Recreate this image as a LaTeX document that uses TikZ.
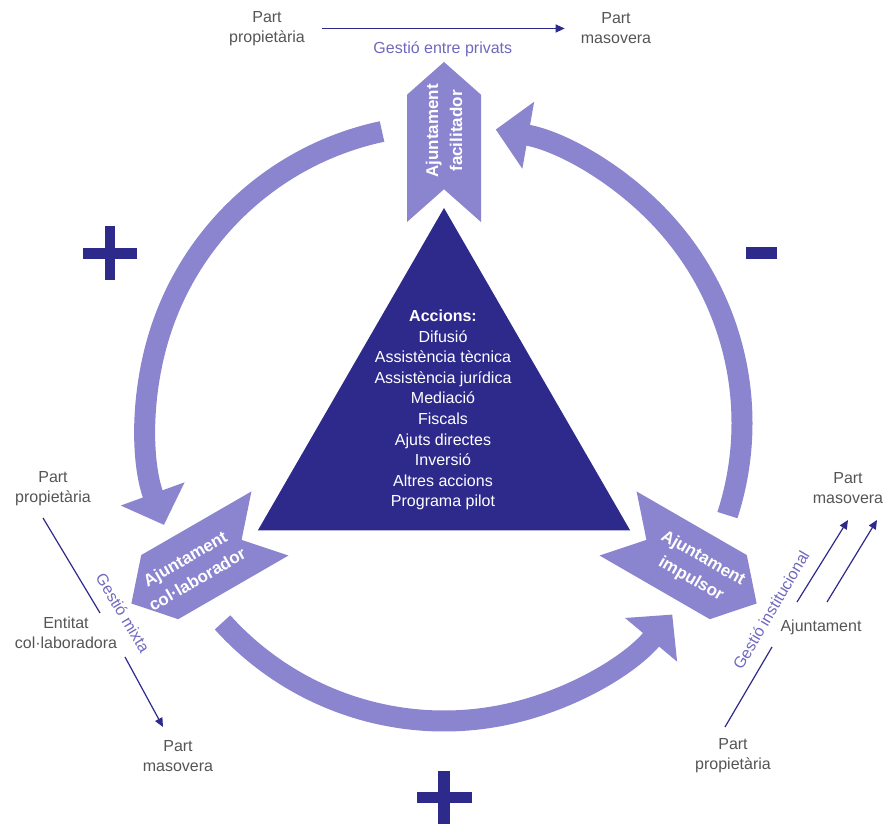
\documentclass[tikz,border=0pt]{standalone}
\usepackage{fontspec}
\setmainfont{Liberation Sans}
\usepackage{tikz}
\usetikzlibrary{arrows.meta,positioning,shapes.symbols,shapes.geometric}
\definecolor{navy}{RGB}{46,42,140}
\definecolor{lav}{RGB}{139,132,206}
\definecolor{lavtxt}{RGB}{112,104,190}
\definecolor{ink}{RGB}{85,85,85}
\newcommand{\partsz}{\fontsize{16}{20}\selectfont}
\newcommand{\accsz}{\fontsize{16}{20.6}\selectfont}
\newcommand{\chevsz}{\fontsize{17}{24}\selectfont}
\tikzset{
  party/.style={align=center,text=ink,font=\partsz,inner sep=0pt},
  gestio/.style={text=lavtxt,font=\partsz,inner sep=0pt},
  flow/.style={draw=navy,line width=1.2pt},
  flowarr/.style={flow,-{Triangle[length=9pt,width=8pt]}},
  chev/.style={signal,signal to=east,signal from=west,signal pointer angle=97,
    fill=lav,minimum width=160pt,minimum height=74pt,inner sep=0pt},
  chevtxt/.style={align=center,text=white,font=\chevsz\bfseries,inner sep=0pt},
  ring/.style={draw=lav,line width=21pt,-{Triangle[length=33pt,width=66pt]}},
  pm/.style={fill=navy},
}

\begin{document}
\begin{tikzpicture}[x=1pt,y=1pt]
  \useasboundingbox (0,0) rectangle (884,827);
  \coordinate (O) at (444,404);

  % central triangle
  \node[regular polygon,regular polygon sides=3,minimum size=430pt,
    fill=navy,inner sep=0pt] (tri) at (O) {};
  \node[align=center,text=white,font=\accsz,inner sep=0pt] (acc) at (443,417)
    {\textbf{Accions:}\\Difusió\\Assistència tècnica\\Assistència jurídica\\
     Mediació\\Fiscals\\Ajuts directes\\Inversió\\Altres accions\\Programa pilot};

  % the three roles
  \node[chev,rotate=90] (fac) at ([shift={(90:281)}]O) {};
  \node[chevtxt,rotate=90] (factxt) at ([shift={(90:292)}]O) {Ajuntament\\facilitador};
  \node[chev,rotate=30,signal to=west,signal from=east] (col) at ([shift={(210:281)}]O) {};
  \node[chevtxt,rotate=30] (coltxt) at ([shift={(210:292)}]O) {Ajuntament\\col·laborador};
  \node[chev,rotate=-30] (imp) at ([shift={(330:281)}]O) {};
  \node[chevtxt,rotate=-30] (imptxt) at ([shift={(330:292)}]O) {Ajuntament\\impulsor};

  % ring arrows
  \draw[ring] ([shift={(102:298)}]O) arc[start angle=102,end angle=200,radius=298pt];
  \draw[ring] ([shift={(222:298)}]O) arc[start angle=222,end angle=320,radius=298pt];
  \draw[ring] ([shift={(342:298)}]O) arc[start angle=342,end angle=440,radius=298pt];

  % signs
  \fill[pm] (105,547) rectangle (115,601);
  \fill[pm] (83,568) rectangle (137,579);
  \fill[pm] (746,568) rectangle (777,580);
  \fill[pm] (438,3) rectangle (450,56);
  \fill[pm] (417,24) rectangle (472,35);

  % gestio entre privats
  \node[party] (tprop) at (267,798.5) {Part\\propietària};
  \node[party] (tmas) at (616,798.5) {Part\\masovera};
  \draw[flowarr,shorten <=17pt,shorten >=16pt] (tprop) -- (tmas)
    node[gestio,midway,below=13pt] (tlbl) {Gestió entre privats};

  % gestio mixta
  \node[party] (lprop) at (53,338) {Part\\propietària};
  \node[party] (lent) at (66,194) {Entitat\\col·laboradora};
  \node[party] (lmas) at (178,70.5) {Part\\masovera};
  \coordinate (lm1) at (43,309);
  \coordinate (lm2) at (100,214);
  \coordinate (lm3) at (125,170);
  \coordinate (lm4) at (163,100);
  \draw[flow] (lm1) -- (lm2);
  \draw[flowarr] (lm3) -- (lm4);
  \node[gestio,rotate=-59] (llbl) at (123,214) {Gestió mixta};

  % gestio institucional
  \node[party] (rmas) at (848,338.5) {Part\\masovera};
  \node[party] (raj) at (821,200) {Ajuntament};
  \node[party] (rprop) at (733,71) {Part\\propietària};
  \coordinate (rm1) at (725,100);
  \coordinate (rm2) at (772,180);
  \coordinate (rm3) at (797,225);
  \coordinate (rm4) at (848,307);
  \coordinate (rm5) at (827,225);
  \coordinate (rm6) at (877,307);
  \draw[flow] (rm1) -- (rm2);
  \draw[flowarr] (rm3) -- (rm4);
  \draw[flowarr] (rm5) -- (rm6);
  \node[gestio,rotate=59.5] (rlbl) at (771,217) {Gestió institucional};
\end{tikzpicture}
\end{document}
